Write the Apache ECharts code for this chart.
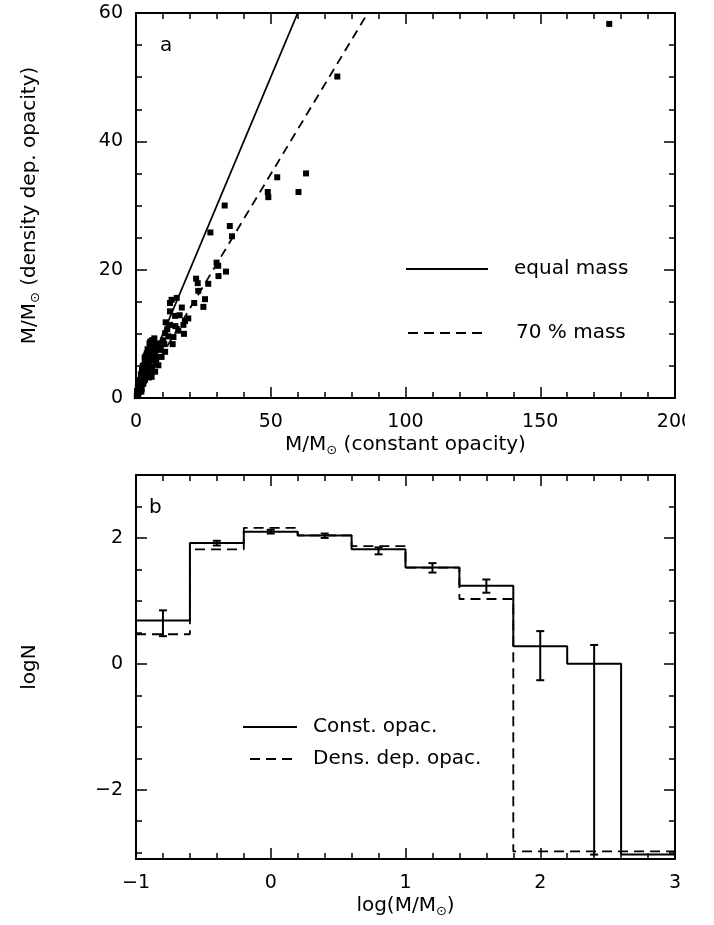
<!DOCTYPE html>
<html>
<head>
<meta charset="utf-8">
<script src="https://cdn.jsdelivr.net/npm/echarts@6/dist/echarts.min.js"></script>
<style>
  html, body { margin: 0; padding: 0; background: #fff; }
  #chart { width: 685px; height: 925px; overflow: hidden; }
</style>
</head>
<body>
<div id="chart"></div>
<script>
// panel a: mass with constant opacity vs mass with density dependent opacity
const massConst = [
  175.6, 74.7, 63.1, 52.4, 60.3, 48.9, 49.1, 32.9, 34.8, 35.6, 27.6,
  29.9, 30.5, 33.4, 30.6, 22.3, 22.9, 26.8, 23.1, 25.6, 21.6, 25.0,
  13.2, 15.1, 12.6, 17.0, 12.6, 14.5, 19.4, 18.2, 17.6, 12.6, 11.6,
  15.7, 17.8, 13.9, 10.8, 10.1, 13.6, 8.3, 6.4, 8.9, 10.8, 7.1, 9.5,
  6.4, 8.3, 5.8, 7.1, 5.8,
  0.3, 0.5, 0.8, 0.9, 1.1, 1.2, 1.4, 1.5, 1.7, 1.9, 2.0, 2.1, 2.3, 2.4,
  2.6, 2.7, 2.8, 3.0, 3.1, 3.3, 3.4, 3.5, 3.7, 3.9, 4.0, 4.2, 4.4, 4.5,
  4.7, 4.9, 5.0, 5.2, 5.4, 5.5, 5.0, 6.0, 6.8, 6.1, 6.6, 4.0, 3.2, 2.2, 1.0,
  0.4, 0.6, 0.7, 1.0, 1.3, 1.6, 1.8, 2.0, 2.2, 2.5, 2.5, 2.9, 2.9, 3.3,
  3.6, 3.8, 4.1, 4.3, 4.6, 4.8, 5.1, 5.3, 5.6, 5.8, 6.2, 6.4, 7.0, 7.5,
  7.8, 8.0, 9.2, 10.5, 11.0, 12.0, 14.6, 16.2
];
const massDens = [
  58.3, 50.1, 35.0, 34.4, 32.1, 32.1, 31.3, 30.0, 26.8, 25.2, 25.8,
  21.1, 20.6, 19.7, 19.0, 18.6, 17.9, 17.8, 16.7, 15.4, 14.8, 14.2,
  15.3, 15.6, 14.8, 14.1, 13.5, 12.8, 12.4, 12.0, 11.4, 11.4, 10.7,
  10.5, 10.0, 9.5, 10.1, 9.0, 8.4, 8.5, 9.0, 7.5, 7.2, 7.0, 6.4,
  5.9, 5.1, 4.9, 4.1, 3.3,
  0.3, 0.8, 0.5, 1.4, 0.9, 2.0, 1.2, 2.6, 1.6, 3.2, 2.2, 1.4, 3.8, 2.8,
  4.6, 2.2, 3.4, 5.2, 4.0, 2.8, 5.7, 4.6, 3.4, 6.1, 5.0, 4.0, 6.6, 5.5,
  4.4, 7.2, 6.0, 3.8, 7.7, 6.6, 8.5, 9.0, 9.3, 7.4, 8.0, 7.0, 6.3, 4.4, 2.4,
  1.1, 0.4, 1.8, 1.3, 2.8, 2.1, 3.7, 1.0, 3.0, 3.6, 5.0, 2.6, 4.3, 4.9,
  6.6, 4.2, 5.8, 7.6, 6.2, 3.2, 6.9, 8.8, 4.9, 7.9, 6.2, 8.6, 7.0, 5.5,
  6.4, 8.0, 7.8, 8.4, 11.8, 9.6, 11.2, 12.9
];
const equalMassLine = [[0, 0], [60, 60]];
const seventyMassLine = [[0, 0], [86, 60]];

// panel b: mass function histograms
const binEdges = [-1, -0.6, -0.2, 0.2, 0.6, 1.0, 1.4, 1.8, 2.2, 2.6, 3.0];
const logNConst = [0.69, 1.92, 2.10, 2.04, 1.82, 1.53, 1.24, 0.28, 0.0, -3.03];
const logNDens = [0.47, 1.82, 2.16, 2.04, 1.87, 1.53, 1.03, -2.98, -2.98, -2.98];
const errX = [-0.8, -0.4, 0, 0.4, 0.8, 1.2, 1.6, 2.0, 2.4];
const errLow = [0.44, 1.88, 2.07, 2.00, 1.74, 1.45, 1.13, -0.26, -3.03];
const errHigh = [0.85, 1.955, 2.13, 2.07, 1.85, 1.60, 1.34, 0.52, 0.30];
const logNTicks = [-2, 0, 2];
const logNMinorTicks = [-3, -2.5, -1.5, -1, -0.5, 0.5, 1, 1.5, 2.5];

const ink = '#000';
const FONT = 'DejaVu Sans';
const FS = 19;
const NFS = 20;

const chart = echarts.init(document.getElementById('chart'));

const minus = v => String(v).replace('-', '\u2212');
const nameStyle = {
  fontSize: NFS, fontFamily: FONT, color: ink, lineHeight: 24,
  rich: { sub: { fontSize: 13, lineHeight: 14, verticalAlign: 'bottom', fontFamily: FONT, color: ink } }
};

function frameAxis(opts) {
  return Object.assign({
    type: 'value',
    axisLine: { show: true, onZero: false, lineStyle: { color: ink, width: 2 } },
    axisTick: { show: true, inside: true, length: 11, lineStyle: { color: ink, width: 1.5 } },
    minorTick: { show: false },
    splitLine: { show: false },
    minorSplitLine: { show: false },
    axisLabel: { show: false }
  }, opts);
}
const minorTick = n => ({ show: true, splitNumber: n, length: 6, lineStyle: { color: ink, width: 1.5 } });
const tickLabel = (margin, fmt) => ({
  show: true, margin: margin, fontSize: FS, fontFamily: FONT, color: ink, formatter: fmt
});
const customTicks = (vals, len) => ({
  show: true, inside: true, length: len, customValues: vals, lineStyle: { color: ink, width: 1.5 }
});

const stepData = vals => binEdges.map((e, i) => [e, vals[Math.min(i, vals.length - 1)]]);

function legendLine(x1, x2, y, dashed) {
  return {
    type: 'line', shape: { x1: x1, y1: y, x2: x2, y2: y },
    style: { stroke: ink, lineWidth: 2, lineDash: dashed ? [10, 6] : null }
  };
}
function label(text, x, y) {
  return {
    type: 'text', x: x, y: y,
    style: { text: text, fontSize: NFS, fontFamily: FONT, fill: ink, verticalAlign: 'middle' }
  };
}

const option = {
  animation: false,
  backgroundColor: '#fff',
  textStyle: { fontFamily: FONT },
  grid: [
    { left: 136, top: 13, width: 539, height: 385, outerBoundsMode: 'none' },
    { left: 136, top: 475, width: 539, height: 384, outerBoundsMode: 'none' }
  ],
  xAxis: [
    frameAxis({
      gridIndex: 0, min: 0, max: 200, interval: 50, position: 'bottom',
      minorTick: minorTick(5), axisLabel: tickLabel(15),
      name: 'M/M{sub|\u2299} (constant opacity)', nameLocation: 'middle', nameGap: 34,
      nameTextStyle: nameStyle
    }),
    frameAxis({ gridIndex: 0, min: 0, max: 200, interval: 50, position: 'top', minorTick: minorTick(5) }),
    frameAxis({
      gridIndex: 1, min: -1, max: 3, interval: 1, position: 'bottom',
      minorTick: minorTick(5), axisLabel: tickLabel(15, minus),
      name: 'log(M/M{sub|\u2299})', nameLocation: 'middle', nameGap: 34,
      nameTextStyle: nameStyle
    }),
    frameAxis({ gridIndex: 1, min: -1, max: 3, interval: 1, position: 'top', minorTick: minorTick(5) })
  ],
  yAxis: [
    frameAxis({
      gridIndex: 0, min: 0, max: 60, interval: 20, position: 'left',
      minorTick: minorTick(4), axisLabel: tickLabel(13),
      name: 'M/M{sub|\u2299} (density dep. opacity)', nameLocation: 'middle', nameGap: 94,
      nameTextStyle: nameStyle
    }),
    frameAxis({ gridIndex: 0, min: 0, max: 60, interval: 20, position: 'right', minorTick: minorTick(4) }),
    frameAxis({
      gridIndex: 1, min: -3.1, max: 3, position: 'left',
      axisTick: customTicks(logNTicks, 11),
      axisLabel: Object.assign(tickLabel(13, minus), { customValues: logNTicks }),
      name: 'logN', nameLocation: 'middle', nameGap: 96,
      nameTextStyle: { fontSize: NFS, fontFamily: FONT, color: ink }
    }),
    frameAxis({
      gridIndex: 1, min: -3.1, max: 3, position: 'right',
      axisTick: customTicks(logNTicks, 11)
    }),
    frameAxis({
      gridIndex: 1, min: -3.1, max: 3, position: 'left',
      axisLine: { show: false, onZero: false },
      axisTick: customTicks(logNMinorTicks, 6)
    }),
    frameAxis({
      gridIndex: 1, min: -3.1, max: 3, position: 'right',
      axisLine: { show: false, onZero: false },
      axisTick: customTicks(logNMinorTicks, 6)
    })
  ],
  series: [
    {
      type: 'scatter', xAxisIndex: 0, yAxisIndex: 0,
      data: massConst.map((m, i) => [m, massDens[i]]),
      symbol: 'rect', symbolSize: 6, itemStyle: { color: ink, opacity: 1 }
    },
    {
      type: 'line', xAxisIndex: 0, yAxisIndex: 0, data: equalMassLine,
      showSymbol: false, lineStyle: { color: ink, width: 1.8 }
    },
    {
      type: 'line', xAxisIndex: 0, yAxisIndex: 0, data: seventyMassLine,
      showSymbol: false, lineStyle: { color: ink, width: 1.8, type: [9, 6] }
    },
    {
      type: 'line', xAxisIndex: 2, yAxisIndex: 2, step: 'end', data: stepData(logNDens),
      showSymbol: false, lineStyle: { color: ink, width: 1.8, type: [10, 6] }
    },
    {
      type: 'line', xAxisIndex: 2, yAxisIndex: 2, step: 'end', data: stepData(logNConst),
      showSymbol: false, lineStyle: { color: ink, width: 2 }
    },
    {
      type: 'custom', xAxisIndex: 2, yAxisIndex: 2,
      data: errX.map((x, i) => [x, errLow[i], errHigh[i]]),
      encode: { x: 0, y: [1, 2] },
      renderItem: (params, api) => {
        const lo = api.coord([api.value(0), api.value(1)]);
        const hi = api.coord([api.value(0), api.value(2)]);
        const w = 4;
        const st = { stroke: ink, lineWidth: 2 };
        return {
          type: 'group',
          children: [
            { type: 'line', shape: { x1: lo[0], y1: lo[1], x2: hi[0], y2: hi[1] }, style: st },
            { type: 'line', shape: { x1: lo[0] - w, y1: lo[1], x2: lo[0] + w, y2: lo[1] }, style: st },
            { type: 'line', shape: { x1: hi[0] - w, y1: hi[1], x2: hi[0] + w, y2: hi[1] }, style: st }
          ]
        };
      }
    }
  ],
  graphic: [
    label('a', 160, 46),
    label('b', 149, 508),
    legendLine(406, 488, 269, false),
    legendLine(408, 488, 333, true),
    label('equal mass', 514, 269),
    label('70 % mass', 516, 333),
    legendLine(243, 297, 727, false),
    legendLine(250, 297, 759, true),
    label('Const. opac.', 313, 727),
    label('Dens. dep. opac.', 313, 759)
  ]
};

chart.setOption(option);
</script>
</body>
</html>
